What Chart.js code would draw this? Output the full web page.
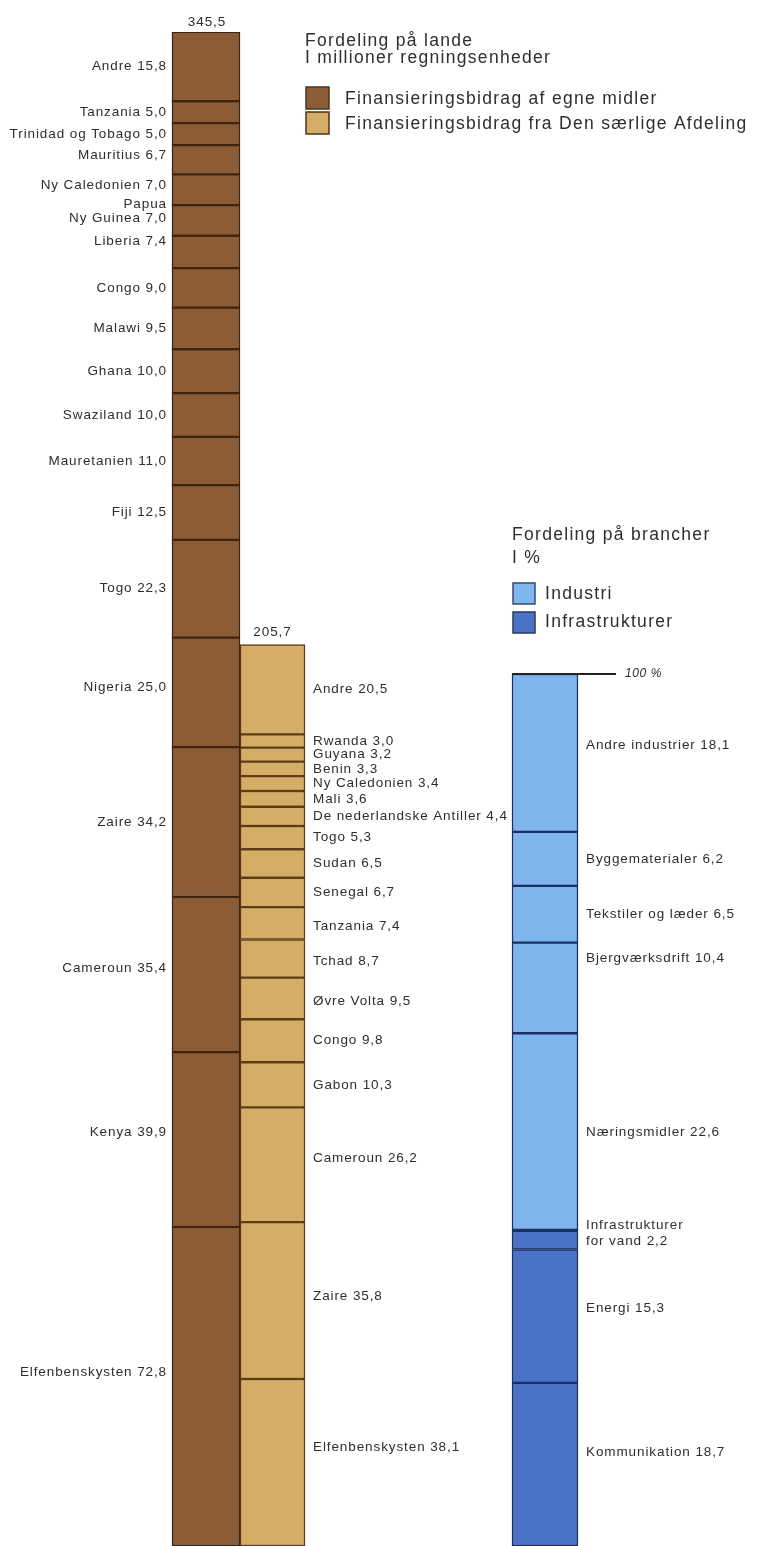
<!DOCTYPE html>
<html lang="da">
<head>
<meta charset="utf-8">
<title>Fordeling på lande og brancher</title>
<script src="https://cdn.jsdelivr.net/npm/chart.js@4.4.1/dist/chart.umd.min.js"></script>
<style>
  html, body { margin: 0; padding: 0; background: #fff; }
  #wrap { width: 758px; height: 1546px; }
</style>
</head>
<body>
<div id="wrap"><canvas id="fordelingChart" width="758" height="1546"></canvas></div>
<script>
// Finansieringsbidrag af egne midler, mio. regningsenheder (oppefra og ned)
const egneLande = ['Andre', 'Tanzania', 'Trinidad og Tobago', 'Mauritius', 'Ny Caledonien',
  'Papua\nNy Guinea', 'Liberia', 'Congo', 'Malawi', 'Ghana', 'Swaziland', 'Mauretanien',
  'Fiji', 'Togo', 'Nigeria', 'Zaire', 'Cameroun', 'Kenya', 'Elfenbenskysten'];
const egneBeloeb = [15.8, 5.0, 5.0, 6.7, 7.0, 7.0, 7.4, 9.0, 9.5, 10.0, 10.0, 11.0,
  12.5, 22.3, 25.0, 34.2, 35.4, 39.9, 72.8];

// Finansieringsbidrag fra Den særlige Afdeling
const afdLande = ['Andre', 'Rwanda', 'Guyana', 'Benin', 'Ny Caledonien', 'Mali',
  'De nederlandske Antiller', 'Togo', 'Sudan', 'Senegal', 'Tanzania', 'Tchad', 'Øvre Volta',
  'Congo', 'Gabon', 'Cameroun', 'Zaire', 'Elfenbenskysten'];
const afdBeloeb = [20.5, 3.0, 3.2, 3.3, 3.4, 3.6, 4.4, 5.3, 6.5, 6.7, 7.4, 8.7, 9.5,
  9.8, 10.3, 26.2, 35.8, 38.1];

// Fordeling på brancher, i %
const brancher = ['Andre industrier', 'Byggematerialer', 'Tekstiler og læder',
  'Bjergværksdrift', 'Næringsmidler', 'Infrastrukturer\nfor vand', 'Energi', 'Kommunikation'];
const brancheProcent = [18.1, 6.2, 6.5, 10.4, 22.6, 2.2, 15.3, 18.7];
const brancheGruppe = ['Industri', 'Industri', 'Industri', 'Industri', 'Industri',
  'Infrastrukturer', 'Infrastrukturer', 'Infrastrukturer'];

// farver og placering
const BRUN = '#8b5c35', BRUN_LINJE = '#3f2410';
const GUL = '#d5ad66', GUL_LINJE = '#5e3c17';
const LYSBLAA = '#7db5ec', MOERKBLAA = '#4a72c6', BLAA_LINJE = '#1b2f66';
const TEKST = '#2e2e2e';
const FONT = '"Liberation Sans", Arial, Helvetica, sans-serif';
const TOP_PX = 32, BUND_PX = 1546, PCT_TOP_PX = 674;
const KOL_EGNE = 206, KOL_AFD = 272.5, KOL_PCT = 545;

// små justeringer af etiketternes lodrette placering
const labelNudge = {
  0: { 3: -4, 4: -4, 5: -9, 6: -11, 14: -5, 16: -6, 17: -7, 18: -14 },
  1: { 10: 3, 11: 3, 12: 3, 15: -6, 16: -4, 17: -15 },
  2: { 0: -8, 3: -30, 5: -7, 6: -8, 7: -12 }
};

const sum = arr => arr.reduce((a, b) => a + b, 0);
const fmt = v => v.toFixed(1).replace('.', ',');

function segmenter(values, x) {
  let top = sum(values);
  return values.map(v => {
    const seg = { x: x, y: [top - v, top] };
    top -= v;
    return seg;
  });
}

const egneTotal = sum(egneBeloeb);
const afdTotal = sum(afdBeloeb);
const pctMax = 100 * (BUND_PX - TOP_PX) / (BUND_PX - PCT_TOP_PX);

function tekst(ctx, str, x, y, size, align, opts) {
  opts = opts || {};
  ctx.font = (opts.italic ? 'italic ' : '') + size + 'px ' + FONT;
  ctx.fillStyle = TEKST;
  ctx.textAlign = align;
  ctx.textBaseline = opts.baseline || 'alphabetic';
  ctx.letterSpacing = (opts.spacing !== undefined ? opts.spacing : size * 0.08) + 'px';
  ctx.fillText(str, x, y);
}

function swatch(ctx, x, y, w, h, fill, line) {
  ctx.fillStyle = fill;
  ctx.fillRect(x, y, w, h);
  ctx.strokeStyle = line;
  ctx.lineWidth = 1.5;
  ctx.strokeRect(x, y, w, h);
}

const tekstPlugin = {
  id: 'tekster',
  afterDraw(chart) {
    const ctx = chart.ctx;
    ctx.save();

    const navne = [egneLande, afdLande, brancher];
    const vaerdier = [egneBeloeb, afdBeloeb, brancheProcent];
    navne.forEach((liste, d) => {
      const meta = chart.getDatasetMeta(d);
      meta.data.forEach((bar, i) => {
        const linjer = liste[i].split('\n');
        linjer[linjer.length - 1] += ' ' + fmt(vaerdier[d][i]);
        const midt = (bar.y + bar.base) / 2 + ((labelNudge[d] || {})[i] || 0);
        const lh = d === 2 ? 16 : 14;
        const y0 = midt - (linjer.length - 1) * lh / 2;
        linjer.forEach((l, k) => {
          if (d === 0) {
            tekst(ctx, l, bar.x - bar.width / 2 - 5, y0 + k * lh, 13.5, 'right', { baseline: 'middle', spacing: 0.9 });
          } else {
            tekst(ctx, l, bar.x + bar.width / 2 + 8, y0 + k * lh, 13.5, 'left', { baseline: 'middle', spacing: 0.9 });
          }
        });
      });
    });

    // totaler over søjlerne
    const egneTop = chart.getDatasetMeta(0).data[0];
    const afdTop = chart.getDatasetMeta(1).data[0];
    const pctTop = chart.getDatasetMeta(2).data[0];
    tekst(ctx, fmt(egneTotal), egneTop.x + 1, egneTop.y - 6, 13.5, 'center', { spacing: 0.9 });
    tekst(ctx, fmt(afdTotal), afdTop.x, afdTop.y - 9, 13.5, 'center', { spacing: 0.9 });

    // 100 % markering
    ctx.strokeStyle = '#222';
    ctx.lineWidth = 2;
    ctx.beginPath();
    ctx.moveTo(pctTop.x - pctTop.width / 2, pctTop.y);
    ctx.lineTo(pctTop.x - pctTop.width / 2 + 104, pctTop.y);
    ctx.stroke();
    tekst(ctx, '100 %', 625, pctTop.y + 3, 12, 'left', { italic: true, spacing: 0.6 });

    // forklaring, lande
    const ls = { spacing: 1.3 };
    tekst(ctx, 'Fordeling på lande', 305, 46, 17.5, 'left', ls);
    tekst(ctx, 'I millioner regningsenheder', 305, 63, 17.5, 'left', ls);
    swatch(ctx, 306, 87, 23, 22, BRUN, '#4a3420');
    tekst(ctx, 'Finansieringsbidrag af egne midler', 345, 104, 17.5, 'left', ls);
    swatch(ctx, 306, 112, 23, 22, GUL, '#4a3420');
    tekst(ctx, 'Finansieringsbidrag fra Den særlige Afdeling', 345, 129, 17.5, 'left', ls);

    // forklaring, brancher
    tekst(ctx, 'Fordeling på brancher', 512, 540, 17.5, 'left', ls);
    tekst(ctx, 'I %', 512, 563, 17.5, 'left', ls);
    swatch(ctx, 513, 583, 22, 21, LYSBLAA, '#3a4a6a');
    tekst(ctx, 'Industri', 545, 599, 17.5, 'left', ls);
    swatch(ctx, 513, 612, 22, 21, MOERKBLAA, '#2a3a5a');
    tekst(ctx, 'Infrastrukturer', 545, 627, 17.5, 'left', ls);

    ctx.restore();
  }
};

// tykkere skillelinje mellem industri og infrastrukturer
const blaaKant = brancheGruppe.map((g, i) => {
  if (g === 'Industri' && brancheGruppe[i + 1] === 'Infrastrukturer') {
    return { top: 1.5, bottom: 2, left: 1.5, right: 1.5 };
  }
  if (g !== 'Industri' && brancheGruppe[i - 1] === 'Industri') {
    return { top: 2, bottom: 1.5, left: 1.5, right: 1.5 };
  }
  return 1.5;
});

const ctx = document.getElementById('fordelingChart').getContext('2d');
const chart = new Chart(ctx, {
  type: 'bar',
  data: {
    datasets: [{
      label: 'Finansieringsbidrag af egne midler',
      data: segmenter(egneBeloeb, KOL_EGNE),
      backgroundColor: BRUN,
      borderColor: BRUN_LINJE,
      borderWidth: 1.5,
      borderSkipped: false,
      barThickness: 68,
      grouped: false,
      yAxisID: 'y'
    }, {
      label: 'Finansieringsbidrag fra Den særlige Afdeling',
      data: segmenter(afdBeloeb, KOL_AFD),
      backgroundColor: GUL,
      borderColor: GUL_LINJE,
      borderWidth: 1.5,
      borderSkipped: false,
      barThickness: 65,
      grouped: false,
      yAxisID: 'y'
    }, {
      label: 'Fordeling på brancher',
      data: segmenter(brancheProcent, KOL_PCT),
      backgroundColor: brancheGruppe.map(g => g === 'Industri' ? LYSBLAA : MOERKBLAA),
      borderColor: BLAA_LINJE,
      borderWidth: blaaKant,
      borderSkipped: false,
      barThickness: 66,
      grouped: false,
      yAxisID: 'pct'
    }]
  },
  options: {
    responsive: false,
    animation: false,
    layout: { padding: { top: TOP_PX, left: 0, right: 0, bottom: 0 } },
    plugins: {
      legend: { display: false },
      tooltip: { enabled: false }
    },
    scales: {
      x: { type: 'linear', min: 0, max: 758, offset: false, display: false },
      y: { min: 0, max: egneTotal, display: false, stacked: false },
      pct: { min: 0, max: pctMax, display: false, stacked: false }
    }
  },
  plugins: [tekstPlugin]
});
</script>
</body>
</html>
